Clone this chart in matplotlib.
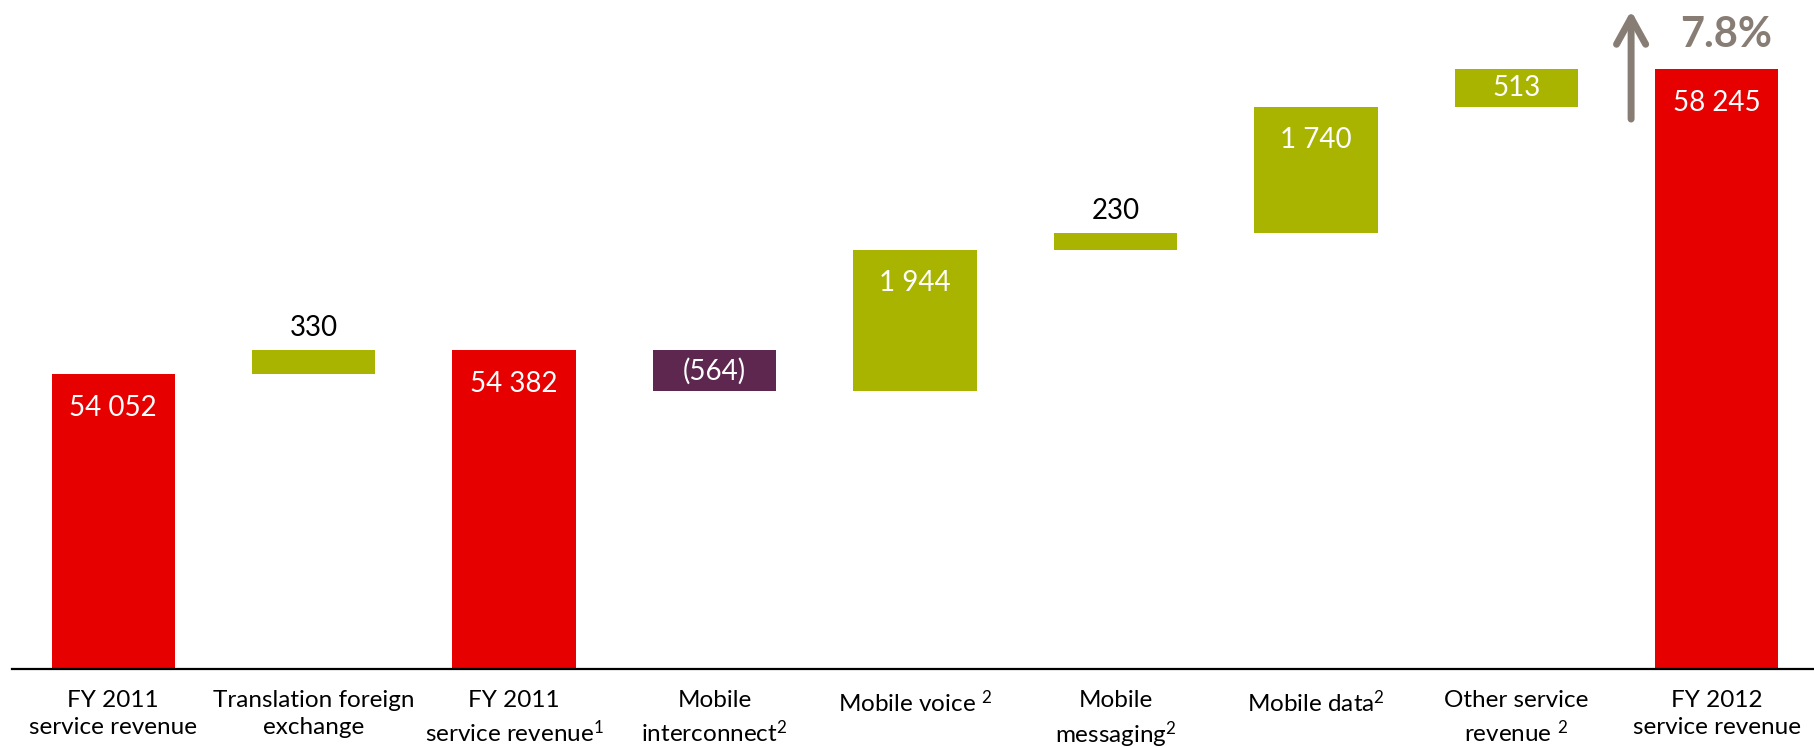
import numpy as np
import matplotlib
matplotlib.use("Agg")
import matplotlib.pyplot as plt

# Service revenue bridge, FY 2011 -> FY 2012 (£m)
categories = [
    "FY 2011\nservice revenue",
    "Translation foreign\nexchange",
    "FY 2011\nservice revenue$^{1}$",
    "Mobile\ninterconnect$^{2}$",
    "Mobile voice $^{2}$",
    "Mobile\nmessaging$^{2}$",
    "Mobile data$^{2}$",
    "Other service\nrevenue $^{2}$",
    "FY 2012\nservice revenue",
]
values = [54052, 330, 54382, -564, 1944, 230, 1740, 513, 58245]
is_total = [True, False, True, False, False, False, False, False, True]
value_labels = ["54 052", "330", "54 382", "(564)", "1 944", "230", "1 740", "513", "58 245"]
growth_label = "7.8%"

RED = "#E60000"
GREEN = "#A8B400"
PURPLE = "#5E2750"
GREY = "#877D74"

plt.rcParams["font.family"] = ["Lato", "DejaVu Sans"]
plt.rcParams["mathtext.fontset"] = "custom"
plt.rcParams["mathtext.rm"] = "Lato"
plt.rcParams["mathtext.default"] = "regular"

fig = plt.figure(figsize=(18.14, 7.47), dpi=100)
ax = fig.add_axes([12 / 1814, 78 / 747, 1 - 12 / 1814, 669 / 747])

x = np.arange(len(values))
bottoms, heights, colors = [], [], []
running = 0
for v, tot in zip(values, is_total):
    if tot:
        bottoms.append(0)
        heights.append(v)
        colors.append(RED)
        running = v
    else:
        bottoms.append(running + min(v, 0))
        heights.append(abs(v))
        colors.append(GREEN if v > 0 else PURPLE)
        running += v

ax.bar(x, heights, bottom=bottoms, width=0.615, color=colors, linewidth=0)

for xi, b, h, v, tot, lab in zip(x, bottoms, heights, values, is_total, value_labels):
    top = b + h
    if not tot and abs(v) < 400:
        # small steps: label above the bar
        ax.annotate(lab, (xi, top), xytext=(0, 7), textcoords="offset points",
                    ha="center", va="bottom", fontsize=20, color="black")
    elif not tot and abs(v) < 1000:
        ax.annotate(lab, (xi, b + h / 2), ha="center", va="center",
                    fontsize=20, color="white")
    else:
        ax.annotate(lab, (xi, top), xytext=(0, -24), textcoords="offset points",
                    ha="center", va="center", fontsize=20, color="white")

ax.set_xlim(-0.505, 8.485)
ax.set_ylim(50000, 59200)

ax.set_xticks(x)
ax.set_xticklabels(categories, fontsize=17.5, linespacing=1.36)
ax.tick_params(axis="x", length=0, pad=15)
ax.set_yticks([])
for side in ["top", "right", "left"]:
    ax.spines[side].set_visible(False)
ax.spines["bottom"].set_linewidth(1.6)
ax.spines["bottom"].set_color("black")

# growth arrow and headline
ax.annotate("", xy=(0.8985, 0.984), xytext=(0.8985, 0.822), xycoords="axes fraction",
            arrowprops=dict(arrowstyle="->,head_length=1.9,head_width=1.05",
                            mutation_scale=10, lw=5, color=GREY,
                            capstyle="round", joinstyle="round",
                            shrinkA=0, shrinkB=0))
ax.text(0.951, 0.948, growth_label, transform=ax.transAxes, ha="center", va="center",
        fontsize=30, fontweight="bold", color=GREY)

fig.savefig("out.png", dpi=100)
